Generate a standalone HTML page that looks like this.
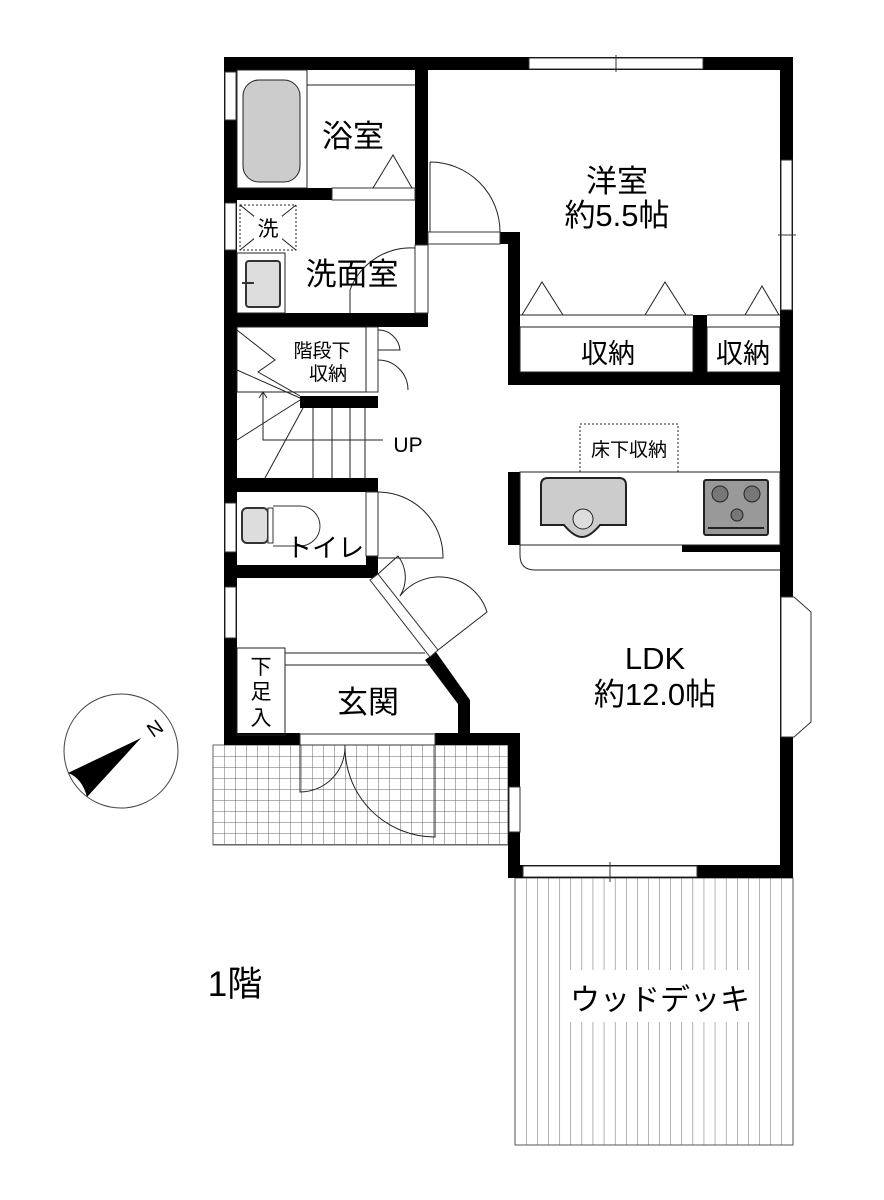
<!DOCTYPE html>
<html><head><meta charset="utf-8"><style>
html,body{margin:0;padding:0;background:#fff}
svg{display:block}
text{font-family:"Liberation Sans","Noto Sans CJK JP",sans-serif;fill:#000}
</style></head><body>
<svg width="884" height="1200" viewBox="0 0 884 1200" xmlns="http://www.w3.org/2000/svg">
<defs>
<pattern id="tile" width="11" height="11" patternUnits="userSpaceOnUse" x="213" y="745"><path d="M0 0H11M0 0V11" stroke="#666" stroke-width="1" fill="none"/></pattern>
<pattern id="deck" width="11.1" height="10" patternUnits="userSpaceOnUse" x="515" y="0"><path d="M0 0V10" stroke="#666" stroke-width="1"/></pattern>
</defs>
<rect x="213" y="745" width="295" height="100" fill="url(#tile)" stroke="#666"/>
<rect x="515" y="878" width="278" height="267" fill="url(#deck)" stroke="#555"/>
<rect x="562" y="970" width="188" height="52" fill="#fff"/>
<g fill="#000">
<rect x="224" y="57" width="569" height="13"/>
<rect x="224" y="57" width="13" height="688"/>
<rect x="780" y="57" width="13" height="821"/>
<rect x="415" y="57" width="13" height="188"/>
<rect x="224" y="188" width="108" height="12"/>
<rect x="224" y="313" width="204" height="14"/>
<rect x="500" y="232" width="20" height="12"/>
<rect x="508" y="232" width="12" height="153"/>
<rect x="508" y="372" width="285" height="13"/>
<rect x="693" y="315" width="14" height="70"/>
<rect x="300" y="396" width="78" height="12"/>
<rect x="224" y="478" width="154" height="14"/>
<rect x="224" y="565" width="154" height="13"/>
<rect x="366" y="556" width="12" height="22"/>
<rect x="224" y="733" width="76" height="12"/>
<rect x="435" y="733" width="85" height="12"/>
<rect x="508" y="733" width="12" height="145"/>
<rect x="508" y="865" width="285" height="13"/>
<rect x="508" y="472" width="12" height="73"/>
<rect x="682" y="545" width="98" height="7"/>
<rect x="458" y="700" width="12" height="45"/>
<polygon points="425,660 436,652 470,700 458,704"/>
</g>
<g fill="#fff" stroke="#333" stroke-width="1">
<rect x="529" y="58" width="174" height="11"/><line x1="616" y1="55" x2="616" y2="72"/>
<rect x="225" y="72" width="11" height="48"/>
<rect x="225" y="203" width="11" height="47"/>
<rect x="225" y="503" width="11" height="49"/>
<rect x="225" y="587" width="11" height="51"/>
<rect x="781" y="160" width="11" height="150"/><line x1="778" y1="235" x2="796" y2="235"/>
<path d="M781 597 L794 597 L811 612 L811 722 L794 737 L781 737Z"/>
<rect x="509" y="787" width="11" height="45"/>
<rect x="523" y="866" width="174" height="11"/><line x1="610" y1="862" x2="610" y2="882"/>
<rect x="428" y="232" width="72" height="12"/>
<rect x="415" y="245" width="13" height="68"/>
<rect x="332" y="188" width="83" height="12"/>
<rect x="300" y="734" width="135" height="11"/>
<rect x="366" y="327" width="12" height="65"/>
<rect x="366" y="492" width="12" height="64"/>
<polygon points="370,580 378,574 438,650 430,657"/>
</g>
<g fill="none" stroke="#222" stroke-width="1">
<rect x="237" y="70" width="70" height="118"/>
<line x1="307" y1="85" x2="415" y2="85"/>
<polyline points="373,188 393,155 412,188"/>
<path d="M430 162 V232 M430 162 A70 70 0 0 1 500 232"/>
<path d="M350 313 V290 A65 65 0 0 1 415 248"/>
<rect x="240" y="205" width="56" height="45" stroke-dasharray="2,2"/>
<line x1="240" y1="205" x2="296" y2="250"/><line x1="296" y1="205" x2="240" y2="250"/>
<rect x="237" y="253" width="48" height="60"/>
<rect x="520" y="327" width="173" height="45"/><line x1="520" y1="315" x2="693" y2="315"/>
<rect x="707" y="327" width="73" height="45"/><line x1="707" y1="315" x2="780" y2="315"/>
<polyline points="522,315 542,282 563,315"/><polyline points="645,315 665,282 686,315"/><polyline points="745,315 762,286 779,315"/>
<rect x="237" y="327" width="129" height="65"/>
<polyline points="237,330 275,360 258,372 300,396"/>
<line x1="237" y1="370" x2="300" y2="398"/>
<line x1="237" y1="440" x2="300" y2="400"/>
<line x1="265" y1="478" x2="303" y2="408"/>
<line x1="313" y1="408" x2="313" y2="478"/><line x1="332" y1="408" x2="332" y2="478"/><line x1="350" y1="408" x2="350" y2="478"/><line x1="365" y1="408" x2="365" y2="478"/>
<polyline points="263,393 263,440 383,440"/>
<polyline points="259,398 263,392 267,398"/>
<path d="M378 330 A22 22 0 0 1 400 350 H378 M378 360 A30 30 0 0 1 408 390"/>
<path d="M378 492 A65 65 0 0 1 443 558 H378"/>
<path d="M378 574 L398 556 A35 35 0 0 1 400 596"/>
<path d="M400 596 A50 50 0 0 1 487 612 L438 650"/>
<rect x="237" y="648" width="48" height="87"/>
<line x1="285" y1="653" x2="425" y2="653"/><line x1="285" y1="665" x2="432" y2="665"/>
<path d="M300 745 V792 A45 45 0 0 0 345 747"/>
<path d="M345 745 A90 90 0 0 0 435 837 V745"/>
<rect x="520" y="472" width="260" height="73"/>
<path d="M520 545 V555 Q520 570 535 570 H780"/>
<rect x="580" y="424" width="98" height="48" stroke-dasharray="2,2"/>
<circle cx="121" cy="751" r="57" stroke="#444"/>
</g>
<rect x="254" y="216" width="28" height="24" fill="#fff"/>
<rect x="243" y="80" width="57" height="102" rx="16" fill="#ccc" stroke="#222"/>
<rect x="246" y="261" width="34" height="46" rx="3" fill="#ddd" stroke="#333" stroke-width="2"/>
<line x1="242" y1="283" x2="254" y2="283" stroke="#333" stroke-width="2"/>
<rect x="242" y="508" width="26" height="35" rx="5" fill="#ddd" stroke="#333" stroke-width="2"/>
<rect x="268" y="508" width="5" height="35" fill="#fff" stroke="#333"/>
<path d="M273 506 H300 A20 20 0 0 1 300 546 H273" fill="none" stroke="#333"/>
<path d="M541 485 Q541 478 548 478 H619 Q626 478 626 485 V525 H600 Q590 537 582 537 Q574 537 564 525 H541Z" fill="#ccc" stroke="#222" stroke-width="2"/>
<circle cx="583" cy="519" r="10" fill="#ddd" stroke="#222"/>
<rect x="704" y="480" width="64" height="55" rx="2" fill="#999" stroke="#222" stroke-width="2"/>
<circle cx="720" cy="494" r="8" fill="#777" stroke="#222"/><circle cx="752" cy="494" r="8" fill="#777" stroke="#222"/><circle cx="737" cy="515" r="6" fill="#777" stroke="#222"/>
<line x1="708" y1="528" x2="764" y2="528" stroke="#222" stroke-width="2"/>
<path d="M141 738 L68 773 Q82 778 87 797Z" fill="#000"/>
<text x="147" y="735" font-size="20" font-family="Liberation Serif,serif" transform="rotate(-35 155 727)">N</text>
<g text-anchor="middle">
<text x="353" y="147" font-size="31">浴室</text>
<text x="617" y="192" font-size="31">洋室</text>
<text x="617" y="226" font-size="31">約5.5帖</text>
<text x="268" y="236" font-size="21">洗</text>
<text x="352" y="285" font-size="31">洗面室</text>
<text x="608" y="363" font-size="27">収納</text>
<text x="743" y="363" font-size="27">収納</text>
<text x="322" y="357" font-size="19">階段下</text>
<text x="328" y="380" font-size="19">収納</text>
<text x="408" y="452" font-size="21">UP</text>
<text x="629" y="456" font-size="19">床下収納</text>
<text x="325" y="557" font-size="26">トイレ</text>
<text x="655" y="669" font-size="31">LDK</text>
<text x="655" y="705" font-size="31">約12.0帖</text>
<text x="368" y="713" font-size="31">玄関</text>
<text x="261" y="674" font-size="21">下</text>
<text x="261" y="699" font-size="21">足</text>
<text x="261" y="725" font-size="21">入</text>
<text x="235" y="996" font-size="35">1階</text>
<text x="660" y="1010" font-size="30">ウッドデッキ</text>
</g>
</svg>
</body></html>
